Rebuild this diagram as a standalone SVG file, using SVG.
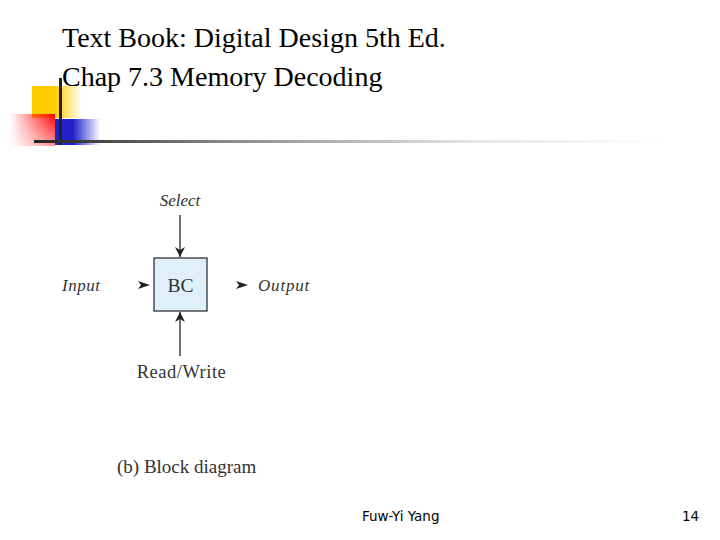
<svg xmlns="http://www.w3.org/2000/svg" width="720" height="540" viewBox="0 0 720 540">
<defs>
<linearGradient id="gy" x1="0" x2="1" y1="0" y2="0"><stop offset="0" stop-color="#ffcc00"/><stop offset="0.45" stop-color="#ffcc00"/><stop offset="1" stop-color="#ffcc00" stop-opacity="0"/></linearGradient>
<linearGradient id="gr" x1="0" x2="1" y1="0" y2="0"><stop offset="0" stop-color="#ff0000" stop-opacity="0"/><stop offset="1" stop-color="#ff0000"/></linearGradient>
<linearGradient id="grv" x1="0" x2="0" y1="0" y2="1"><stop offset="0" stop-color="#fff" stop-opacity="0"/><stop offset="1" stop-color="#fff" stop-opacity="0.6"/></linearGradient>
<linearGradient id="gb" x1="0" x2="1" y1="0" y2="0"><stop offset="0" stop-color="#2222cc"/><stop offset="0.4" stop-color="#2222cc"/><stop offset="1" stop-color="#2222cc" stop-opacity="0"/></linearGradient>
<linearGradient id="gl" x1="0" x2="1" y1="0" y2="0"><stop offset="0" stop-color="#222"/><stop offset="0.3" stop-color="#888"/><stop offset="0.7" stop-color="#e6e6e6"/><stop offset="1" stop-color="#fff"/></linearGradient>
<marker id="ah" viewBox="0 0 10 10" refX="10" refY="5" markerWidth="10" markerHeight="10" markerUnits="userSpaceOnUse" orient="auto"><path d="M0,0 L10,5 L0,10 L3,5 z" fill="#222"/></marker>
<style>
.t{font-family:"Liberation Serif",serif;fill:#000;font-size:28px}
.d{font-family:"Liberation Serif",serif;fill:#333;font-size:17px}
.i{font-style:italic}
.f{font-family:"DejaVu Sans",sans-serif;font-size:13.5px;fill:#000}
.c{stroke:#222;stroke-width:1.3;fill:none}
</style>
</defs>
<g id="deco">
<rect x="32" y="86" width="50" height="32" fill="url(#gy)"/>
<rect x="10" y="114" width="45" height="32" fill="url(#gr)"/>
<rect x="10" y="114" width="45" height="32" fill="url(#grv)"/>
<rect x="55" y="119" width="45" height="26" fill="url(#gb)"/>
<rect x="59" y="78" width="3" height="67" fill="#222"/>
<rect x="34" y="140" width="630" height="3" fill="url(#gl)"/>
</g>
<g id="title">
<text class="t" x="62" y="47">Text Book: Digital Design 5th Ed.</text>
<text class="t" x="62" y="86">Chap 7.3 Memory Decoding</text>
</g>
<g id="connectors">
<line class="c" x1="180" y1="215" x2="180" y2="257" marker-end="url(#ah)"/>
<line class="c" x1="180" y1="356" x2="180" y2="312" marker-end="url(#ah)"/>
<path d="M138,281 L150,285 L138,289 L141,285 z" fill="#222"/>
<path d="M236,281 L248,285 L236,289 L239,285 z" fill="#222"/>
</g>
<g id="bc">
<rect x="154" y="258" width="53" height="53" fill="#dff0fa" stroke="#222" stroke-width="1.2"/>
<text class="d" x="180.5" y="292" text-anchor="middle" style="font-size:19.5px">BC</text>
</g>
<g id="labels">
<text class="d i" x="180" y="206" text-anchor="middle">Select</text>
<text class="d i" x="62" y="291" letter-spacing="0.5">Input</text>
<text class="d i" x="258" y="291" letter-spacing="0.8">Output</text>
<text class="d" x="181.5" y="378" text-anchor="middle" letter-spacing="0.5" style="font-size:18.5px">Read/Write</text>
<text class="d" x="117" y="473" style="font-size:19px">(b) Block diagram</text>
</g>
<g id="footer">
<text class="f" x="362" y="521">Fuw-Yi Yang</text>
<text class="f" x="682" y="521">14</text>
</g>
</svg>
